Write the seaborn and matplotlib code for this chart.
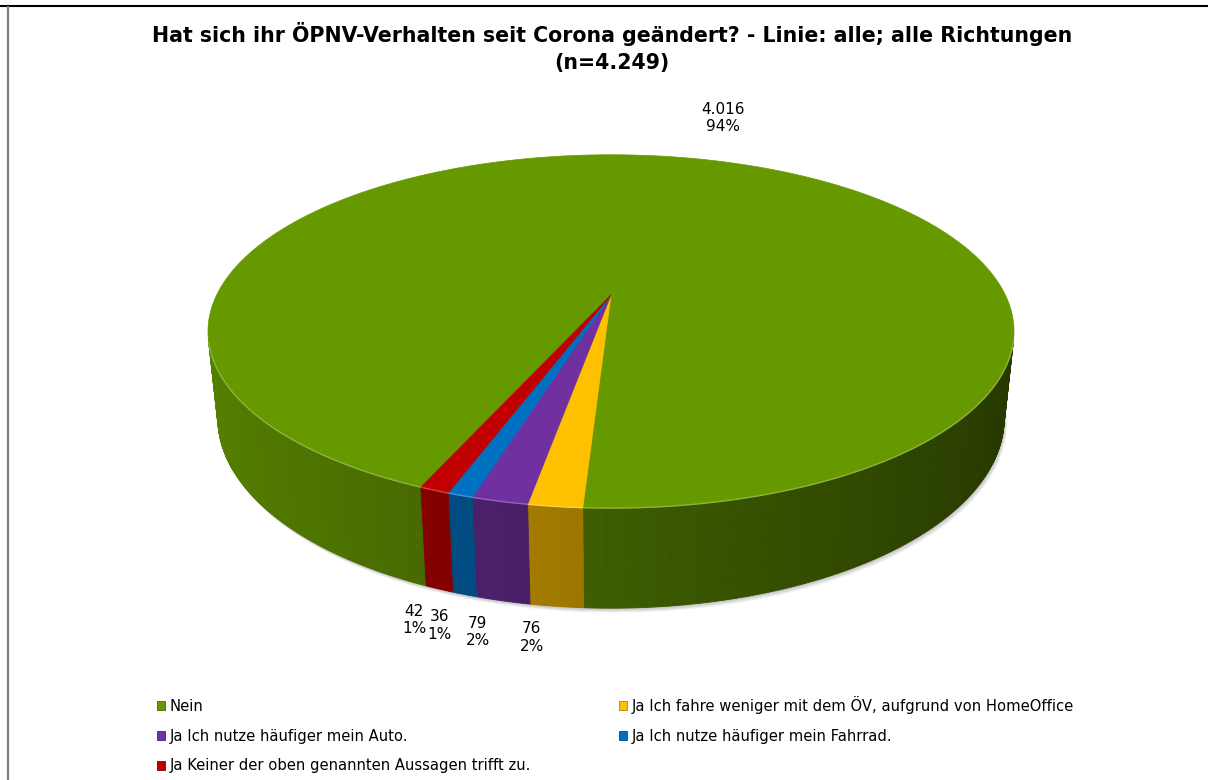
import numpy as np
import matplotlib
matplotlib.use("Agg")
import matplotlib.pyplot as plt
import seaborn as sns
from matplotlib.patches import Polygon, Patch

# data
categories = [
    "Nein",
    "Ja Ich fahre weniger mit dem ÖV, aufgrund von HomeOffice",
    "Ja Ich nutze häufiger mein Auto.",
    "Ja Ich nutze häufiger mein Fahrrad.",
    "Ja Keiner der oben genannten Aussagen trifft zu.",
]
counts = [4016, 76, 79, 36, 42]
pct_labels = [94, 2, 2, 1, 1]
hex_colors = ["#669900", "#FFC000", "#7030A0", "#0070C0", "#C00000"]
title = "Hat sich ihr ÖPNV-Verhalten seit Corona geändert? - Linie: alle; alle Richtungen\n(n=4.249)"

# 3d pie geometry (pixel layout)
tilt = np.radians(25.4)
cam_dist = 4.38
thickness = 0.244
first_angle = 203
cx, cy = 611, 295
half_width = 403
label_offsets = [(37, -40), (-25, 31), (-25, 31), (-25, 31), (-25, 31)]

sns.set_theme(style="white")
plt.rcParams["font.family"] = ["DejaVu Sans"]
colors = sns.color_palette(hex_colors)


def project(phi_deg, r=1.0, h=0.0):
    phi = np.radians(phi_deg)
    X = r * np.sin(phi)
    Z = -r * np.cos(phi)
    depth = cam_dist - h * np.sin(tilt) - Z * np.cos(tilt)
    yc = h * np.cos(tilt) - Z * np.sin(tilt)
    return X / depth, yc / depth


xs, _ = project(np.linspace(0, 360, 3601))
scale = half_width / xs.max()


def to_px(phi_deg, r=1.0, h=0.0):
    x, y = project(phi_deg, r, h)
    return cx + scale * x, cy - scale * y


def shade(color, phi_deg):
    f = 0.6 - 0.24 * np.sin(np.radians(phi_deg))
    return tuple(np.clip(np.array(color) * f, 0, 1))


def visible(phi_deg):
    return np.cos(np.radians(phi_deg)) < -1 / (cam_dist * np.cos(tilt))


fig = plt.figure(figsize=(12.08, 7.8), dpi=100)
ax = fig.add_axes([0, 0, 1, 1])
ax.set_xlim(0, 1208)
ax.set_ylim(780, 0)
ax.axis("off")

total = sum(counts)
spans = [c / total * 360 for c in counts]
starts = first_angle + np.concatenate([[0], np.cumsum(spans)[:-1]])

# soft shadow under the pie
ring = np.linspace(0, 360, 361)
bx, by = to_px(ring, 1.0, -thickness)
for k in range(1, 6):
    ax.add_patch(Polygon(np.column_stack([bx + 0.6 * k, by + 0.9 * k]), closed=True,
                         facecolor="#000000", edgecolor="none", alpha=0.05, zorder=1))

# side walls
for start, span, col in zip(starts, spans, colors):
    phis = np.linspace(start, start + span, max(int(span * 2), 2) + 1)
    for p1, p2 in zip(phis[:-1], phis[1:]):
        pm = (p1 + p2) / 2
        if not visible(pm):
            continue
        tx1, ty1 = to_px(p1)
        tx2, ty2 = to_px(p2)
        bx1, by1 = to_px(p1, 1.0, -thickness)
        bx2, by2 = to_px(p2, 1.0, -thickness)
        c = shade(col, pm)
        ax.add_patch(Polygon([[tx1, ty1], [tx2, ty2], [bx2, by2], [bx1, by1]], closed=True,
                             facecolor=c, edgecolor=c, lw=0.6, zorder=2))

# top face
for start, span, col in zip(starts, spans, colors):
    phis = np.linspace(start, start + span, max(int(span * 3), 2) + 1)
    px, py = to_px(phis)
    pts = np.vstack([[cx, cy], np.column_stack([px, py])])
    ax.add_patch(Polygon(pts, closed=True, facecolor=col, edgecolor=col, lw=0.5, zorder=3))
    # light bevel along the visible front rim, broken where the rim turns away
    rx, ry = px.copy(), py.copy()
    hidden = ~visible(phis)
    rx[hidden] = np.nan
    ry[hidden] = np.nan
    light = tuple(np.clip(np.array(col) * 0.75 + 0.25, 0, 1))
    ax.plot(rx, ry, color=light, lw=1.0, zorder=4, solid_capstyle="butt")

# data labels
for i, (start, span, c, p) in enumerate(zip(starts, spans, counts, pct_labels)):
    mid = start + span / 2
    if visible(mid):
        ax_, ay_ = to_px(mid, 1.0, -thickness)
    else:
        ax_, ay_ = to_px(mid)
    dx, dy = label_offsets[i]
    txt = f"{c:,}".replace(",", ".") + f"\n{p}%"
    ax.text(ax_ + dx, ay_ + dy, txt, ha="center", va="center", fontsize=11,
            linespacing=1.2, color="black", zorder=5)

# title
ax.text(612, 47.5, title, ha="center", va="center", fontsize=14.8, fontweight="bold",
        linespacing=1.42, color="black")

# chart frame (cropped)
ax.plot([0, 1208], [6, 6], color="black", lw=1.5, solid_capstyle="butt")
ax.plot([7.5, 7.5], [6, 780], color="#7f7f7f", lw=1.6, solid_capstyle="butt")

# legend, row-major order like the original
order = [0, 2, 4, 1, 3]
handles = [Patch(facecolor=colors[i], edgecolor=shade(colors[i], 200), lw=0.6) for i in order]
labels = [categories[i] for i in order]
fig.legend(handles, labels, loc="upper left", bbox_to_anchor=(157 / 1208, 1 - 696 / 780),
           ncol=2, frameon=False, fontsize=10.6, handlelength=0.55, handleheight=0.55,
           handletextpad=0.3, labelspacing=1.0, columnspacing=6.0, borderpad=0,
           borderaxespad=0, labelcolor="black")

fig.savefig("out.png", dpi=100)
plt.close(fig)
